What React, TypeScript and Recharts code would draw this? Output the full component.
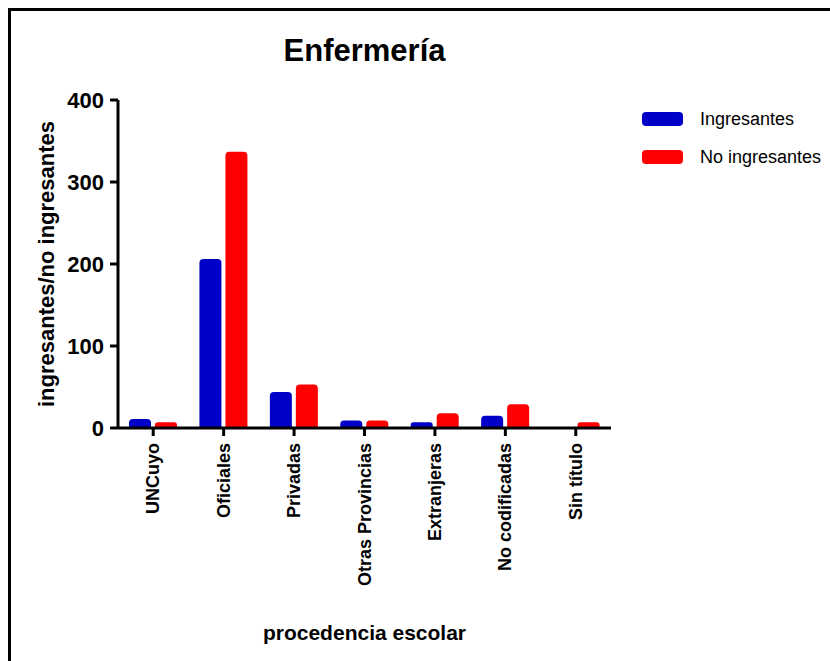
import React from 'react';
import { BarChart, Bar, XAxis, YAxis } from 'recharts';

const categories = ['UNCuyo', 'Oficiales', 'Privadas', 'Otras Provincias', 'Extranjeras', 'No codificadas', 'Sin título'];
const ingresantes = [11, 206, 44, 9, 7, 15, 0];
const noIngresantes = [7, 337, 53, 9, 18, 29, 7];
const yTicks = [0, 100, 200, 300, 400];

const FONT = '"Liberation Sans", Arial, sans-serif';
const BLUE = '#0000C8';
const RED = '#FF0000';

const data = categories.map((c, i) => ({
  name: c,
  ingresantes: ingresantes[i],
  noIngresantes: noIngresantes[i],
}));

const legendItems = [
  { label: 'Ingresantes', color: BLUE },
  { label: 'No ingresantes', color: RED },
];

const XTick = ({ x, y, payload }: any) => (
  <text
    x={x}
    y={y}
    transform={`rotate(-90, ${x}, ${y})`}
    textAnchor="end"
    dy={6}
    dx={-5}
    fontFamily={FONT}
    fontWeight="bold"
    fontSize={18}
    fill="#000"
  >
    {payload.value}
  </text>
);

const YLabel = ({ viewBox }: any) => {
  const cy = viewBox.y + viewBox.height / 2;
  const cx = 46;
  return (
    <text
      x={cx}
      y={cy}
      transform={`rotate(-90, ${cx}, ${cy})`}
      textAnchor="middle"
      dominantBaseline="central"
      fontFamily={FONT}
      fontWeight="bold"
      fontSize={22}
      fill="#000"
    >
      ingresantes/no ingresantes
    </text>
  );
};

export default function App() {
  return (
    <div style={{ position: 'absolute', left: 0, top: 0, width: 830, height: 661, background: '#fff' }}>
      <div
        style={{
          position: 'absolute',
          left: 8,
          top: 8,
          width: 822,
          height: 653,
          borderTop: '3px solid #000',
          borderLeft: '3px solid #000',
          boxSizing: 'border-box',
        }}
      />
      <div
        style={{
          position: 'absolute',
          left: 118,
          width: 493,
          top: 33,
          textAlign: 'center',
          fontFamily: FONT,
          fontWeight: 'bold',
          fontSize: 31,
          color: '#000',
        }}
      >
        Enfermería
      </div>
      <div style={{ position: 'absolute', left: 642, top: 100, fontFamily: FONT, fontSize: 18, color: '#000' }}>
        {legendItems.map((item) => (
          <div key={item.label} style={{ display: 'flex', alignItems: 'center', height: 38 }}>
            <div style={{ width: 41, height: 14, borderRadius: 4, background: item.color, marginRight: 17 }} />
            <span>{item.label}</span>
          </div>
        ))}
      </div>
      <BarChart
        width={830}
        height={661}
        data={data}
        margin={{ top: 100, right: 219, bottom: 18, left: 0 }}
        barSize={22}
        barGap={4}
        style={{ position: 'absolute', left: 0, top: 0 }}
      >
        <XAxis
          dataKey="name"
          interval={0}
          height={215}
          tick={<XTick />}
          tickSize={8}
          axisLine={{ stroke: '#000', strokeWidth: 3 }}
          tickLine={{ stroke: '#000', strokeWidth: 3 }}
          label={{
            value: 'procedencia escolar',
            position: 'insideBottom',
            offset: 3,
            fontFamily: FONT,
            fontWeight: 'bold',
            fontSize: 21,
            fill: '#000',
          }}
        />
        <YAxis
          width={118}
          domain={[0, 400]}
          ticks={yTicks}
          tickSize={8}
          tickMargin={6}
          axisLine={{ stroke: '#000', strokeWidth: 3 }}
          tickLine={{ stroke: '#000', strokeWidth: 3 }}
          tick={{ fontFamily: FONT, fontWeight: 'bold', fontSize: 22, fill: '#000' }}
          label={<YLabel />}
        />
        <Bar dataKey="ingresantes" name="Ingresantes" fill={BLUE} radius={[4, 4, 0, 0]} isAnimationActive={false} />
        <Bar dataKey="noIngresantes" name="No ingresantes" fill={RED} radius={[4, 4, 0, 0]} isAnimationActive={false} />
      </BarChart>
    </div>
  );
}
